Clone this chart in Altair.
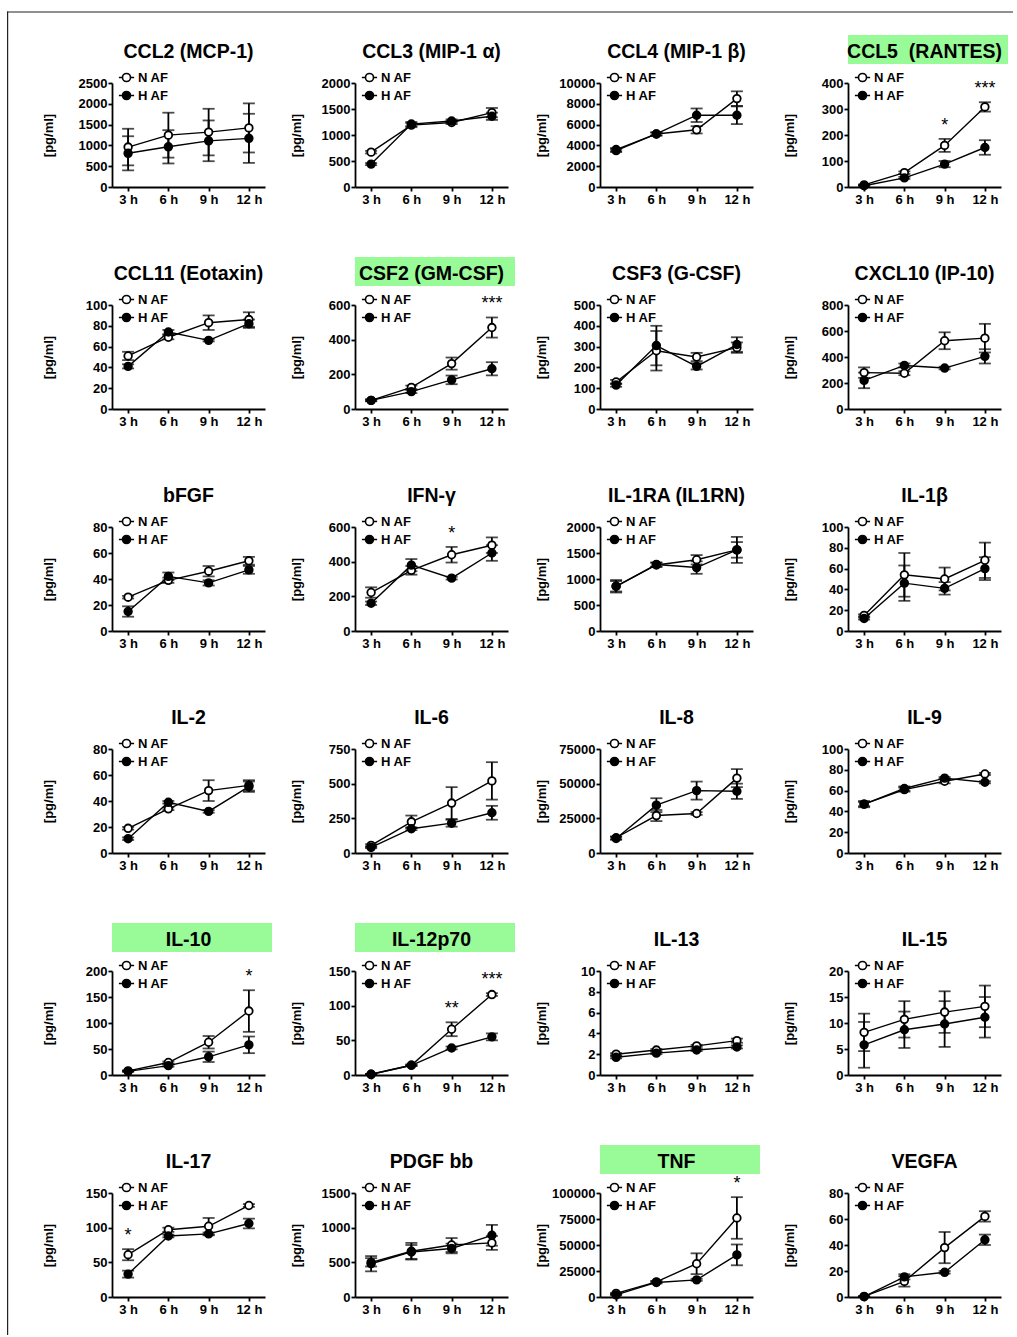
import altair as alt
import pandas as pd

times = ["3 h", "6 h", "9 h", "12 h"]
groups = ["N AF", "H AF"]

titles = ["CCL2 (MCP-1)", "CCL3 (MIP-1 α)", "CCL4 (MIP-1 β)", "CCL5\u00a0 (RANTES)",
          "CCL11 (Eotaxin)", "CSF2 (GM-CSF)", "CSF3 (G-CSF)", "CXCL10 (IP-10)",
          "bFGF", "IFN-γ", "IL-1RA (IL1RN)", "IL-1β",
          "IL-2", "IL-6", "IL-8", "IL-9",
          "IL-10", "IL-12p70", "IL-13", "IL-15",
          "IL-17", "PDGF bb", "TNF", "VEGFA"]
highlighted = [False, False, False, True, False, True, False, False,
               False, False, False, False, False, False, False, False,
               True, True, False, False, False, False, True, False]
y_max = [2500, 2000, 10000, 400, 100, 600, 500, 800, 80, 600, 2000, 100,
         80, 750, 75000, 100, 200, 150, 10, 20, 150, 1500, 100000, 80]
y_step = [500, 500, 2000, 100, 20, 200, 100, 200, 20, 200, 500, 20,
          20, 250, 25000, 20, 50, 50, 2, 5, 50, 500, 25000, 20]

naf_mean = [[960, 1246, 1320, 1420], [670, 1190, 1240, 1430], [3600, 5100, 5500, 8500], [8, 55, 160, 308],
            [51, 69, 83, 86], [50, 125, 262, 470], [130, 280, 250, 295], [280, 275, 525, 545],
            [26, 39, 46, 54], [222, 350, 440, 495], [860, 1270, 1370, 1560], [15, 54, 50, 68],
            [19, 34, 48, 52], [55, 225, 360, 520], [11000, 27000, 28500, 54000], [47, 61, 69, 76],
            [8, 24, 63, 123], [1, 14, 66, 116], [2.0, 2.4, 2.8, 3.3], [8.2, 10.7, 12.1, 13.2],
            [61, 97, 102, 132], [500, 660, 750, 780], [3500, 14500, 32000, 76000], [0.5, 12, 38, 62]]
naf_sem = [[440, 540, 560, 590], [25, 40, 30, 90], [150, 150, 350, 700], [2, 5, 25, 18],
           [4, 2, 7, 7], [5, 10, 35, 58], [10, 95, 20, 25], [40, 15, 65, 110],
           [1, 2, 4, 3], [30, 25, 45, 45], [100, 40, 90, 150], [1, 21, 11, 17],
           [1, 1, 8, 4], [8, 45, 115, 135], [1000, 4000, 1000, 6500], [2, 2, 2, 1],
           [1, 2, 12, 40], [0.5, 1, 10, 2], [0.1, 0.1, 0.1, 0.2], [3.6, 3.5, 4.0, 4.0],
           [8, 3, 12, 2], [60, 120, 100, 100], [500, 1000, 10000, 20000], [0.2, 4, 12, 4]]
haf_mean = [[810, 966, 1110, 1170], [440, 1210, 1270, 1360], [3500, 5100, 6900, 6900], [5, 35, 88, 152],
            [41, 74, 66, 82], [50, 100, 168, 232], [115, 305, 205, 310], [220, 335, 315, 405],
            [15, 42, 37, 47], [160, 380, 305, 450], [860, 1280, 1220, 1560], [12, 46, 41, 60],
            [11, 39, 32, 51], [40, 175, 215, 290], [10500, 34500, 45000, 44500], [47, 62, 72, 68],
            [7, 18, 35, 58], [1, 14, 39, 55], [1.7, 2.1, 2.4, 2.7], [5.8, 8.7, 9.8, 11.1],
            [33, 88, 91, 106], [480, 650, 700, 890], [2000, 14000, 16500, 40500], [0.3, 15.5, 19, 44]]
haf_sem = [[410, 400, 490, 590], [20, 40, 30, 70], [150, 150, 650, 850], [2, 4, 12, 28],
           [2, 2, 1, 4], [5, 8, 25, 38], [8, 95, 15, 35], [60, 15, 10, 55],
           [4, 3, 2, 3], [10, 35, 8, 45], [120, 40, 120, 250], [1, 17, 6, 11],
           [1, 1, 1, 4], [5, 10, 25, 50], [1000, 5000, 6500, 5500], [3, 2, 1, 1],
           [1, 2, 10, 16], [0.5, 1, 2, 5], [0.1, 0.1, 0.1, 0.15], [4.4, 3.5, 4.4, 3.9],
           [5, 2, 2, 7], [110, 100, 70, 150], [500, 1000, 1000, 10000], [0.2, 2, 1, 4]]

star_panel = [3, 3, 5, 9, 16, 17, 17, 20, 22]
star_time = ["9 h", "12 h", "12 h", "9 h", "12 h", "9 h", "12 h", "3 h", "12 h"]
star_label = ["*", "***", "***", "*", "*", "**", "***", "*", "*"]

FONT = "Liberation Sans"
GREEN = "#98FB98"
FRAME = "#222222"
W, H = 153, 104
LEGEND_PATH = "M-1.9,0H-1M1,0H1.9M-1,0A1,1,0,1,1,1,0A1,1,0,1,1,-1,0"
one = pd.DataFrame({"k": [0]})
CELL_X0 = [-105, -83, -85, -88]
CELL_X1 = [160, 160, 160, 165]
CELL_Y0, CELL_Y1 = -80, 142


def panel(i):
    r, c = divmod(i, 4)
    rows = []
    for g, m, s in (("N AF", naf_mean[i], naf_sem[i]), ("H AF", haf_mean[i], haf_sem[i])):
        for t, mv, sv in zip(times, m, s):
            rows.append({"time": t, "group": g, "mean": mv,
                         "lo": max(mv - sv, 0), "hi": mv + sv})
    df = pd.DataFrame(rows)

    xenc = alt.X("time:N", sort=times,
                 scale=alt.Scale(type="point", domain=times, padding=0.4),
                 axis=alt.Axis(title=None, labelAngle=0, labelPadding=2, tickSize=4))

    tx = -64 if c == 0 else -59

    def yenc(field):
        return alt.Y(field, type="quantitative",
                     scale=alt.Scale(domain=[0, y_max[i]], nice=False, zero=True),
                     axis=alt.Axis(values=list(range(0, y_max[i] + 1, y_step[i])),
                                   format="d", title="[pg/ml]", titleX=tx, titleY=H / 2,
                                   titleAngle=-90, titleAlign="center", titleBaseline="middle",
                                   tickSize=4, labelPadding=1))

    x0, x1 = CELL_X0[c], CELL_X1[c]
    layers = [alt.Chart(one).mark_rect(opacity=0).encode(
        x=alt.value(x0), x2=alt.value(x1), y=alt.value(CELL_Y0), y2=alt.value(CELL_Y1))]
    if r == 0:
        layers.append(alt.Chart(one).mark_rect(fill=FRAME, strokeWidth=0).encode(
            x=alt.value(-105 if c == 0 else x0), x2=alt.value(x1),
            y=alt.value(-71.6), y2=alt.value(-70.4)))
    if c == 0:
        layers.append(alt.Chart(one).mark_rect(fill=FRAME, strokeWidth=0).encode(
            x=alt.value(-105), x2=alt.value(-103.8),
            y=alt.value(-71.6 if r == 0 else CELL_Y0), y2=alt.value(CELL_Y1)))
    layers.append(alt.Chart(one).mark_rect(fill=GREEN if highlighted[i] else "white",
                                           opacity=1 if highlighted[i] else 0).encode(
        x=alt.value(0), x2=alt.value(160), y=alt.value(-48), y2=alt.value(-19)))
    layers.append(alt.Chart(one).mark_text(text=titles[i], font=FONT, fontSize=19.5,
                                           fontWeight="bold", color="black",
                                           align="center", baseline="middle").encode(
        x=alt.value(W / 2), y=alt.value(-31)))

    base = alt.Chart(df)
    layers.append(base.mark_rule(color="black", strokeWidth=1.8).encode(
        x=xenc, y=yenc("lo"), y2="hi:Q", detail="group:N"))
    layers.append(base.mark_tick(color="black", thickness=1.8, size=12).encode(
        x=xenc, y=yenc("hi"), detail="group:N"))
    layers.append(base.mark_tick(color="black", thickness=1.8, size=12).encode(
        x=xenc, y=yenc("lo"), detail="group:N"))
    layers.append(base.mark_line(color="black", strokeWidth=1.4).encode(
        x=xenc, y=yenc("mean"), detail="group:N"))
    layers.append(base.mark_circle(size=58, stroke="black", strokeWidth=1.8, opacity=1).encode(
        x=xenc, y=yenc("mean"),
        fill=alt.Fill("group:N", scale=alt.Scale(domain=groups, range=["white", "black"]),
                      legend=alt.Legend(orient="none", legendX=8, legendY=-12, title=None,
                                        symbolType=LEGEND_PATH, symbolSize=64,
                                        symbolStrokeColor="black", symbolStrokeWidth=1.6,
                                        labelFont=FONT, labelFontSize=13, labelFontWeight="bold",
                                        labelColor="black", labelOffset=5, rowPadding=3,
                                        padding=0))))

    srows = []
    for p, t, lab in zip(star_panel, star_time, star_label):
        if p == i:
            k = times.index(t)
            srows.append({"time": t, "label": lab, "hi": naf_mean[i][k] + naf_sem[i][k]})
    if srows:
        layers.append(alt.Chart(pd.DataFrame(srows)).mark_text(
            font=FONT, fontSize=18, color="black", dy=-8, baseline="alphabetic").encode(
            x=xenc, y=yenc("hi"), text="label:N"))

    return alt.layer(*layers).properties(width=W, height=H)


panels = [panel(i) for i in range(24)]

chart = alt.concat(*panels, columns=4, spacing=0, align="each", bounds="full").resolve_scale(
    x="independent", y="independent", fill="independent"
).properties(
    padding={"left": 7, "top": 3, "right": 0, "bottom": 0}
).configure_view(stroke=None).configure_axis(
    grid=False, domainColor="black", domainWidth=1.8, tickColor="black", tickWidth=1.8,
    labelFont=FONT, labelFontSize=13, labelFontWeight="bold", labelColor="black",
    titleFont=FONT, titleFontSize=13, titleFontWeight="bold", titleColor="black"
)

chart.save("out.html", embed_options={"renderer": "svg", "actions": False})
